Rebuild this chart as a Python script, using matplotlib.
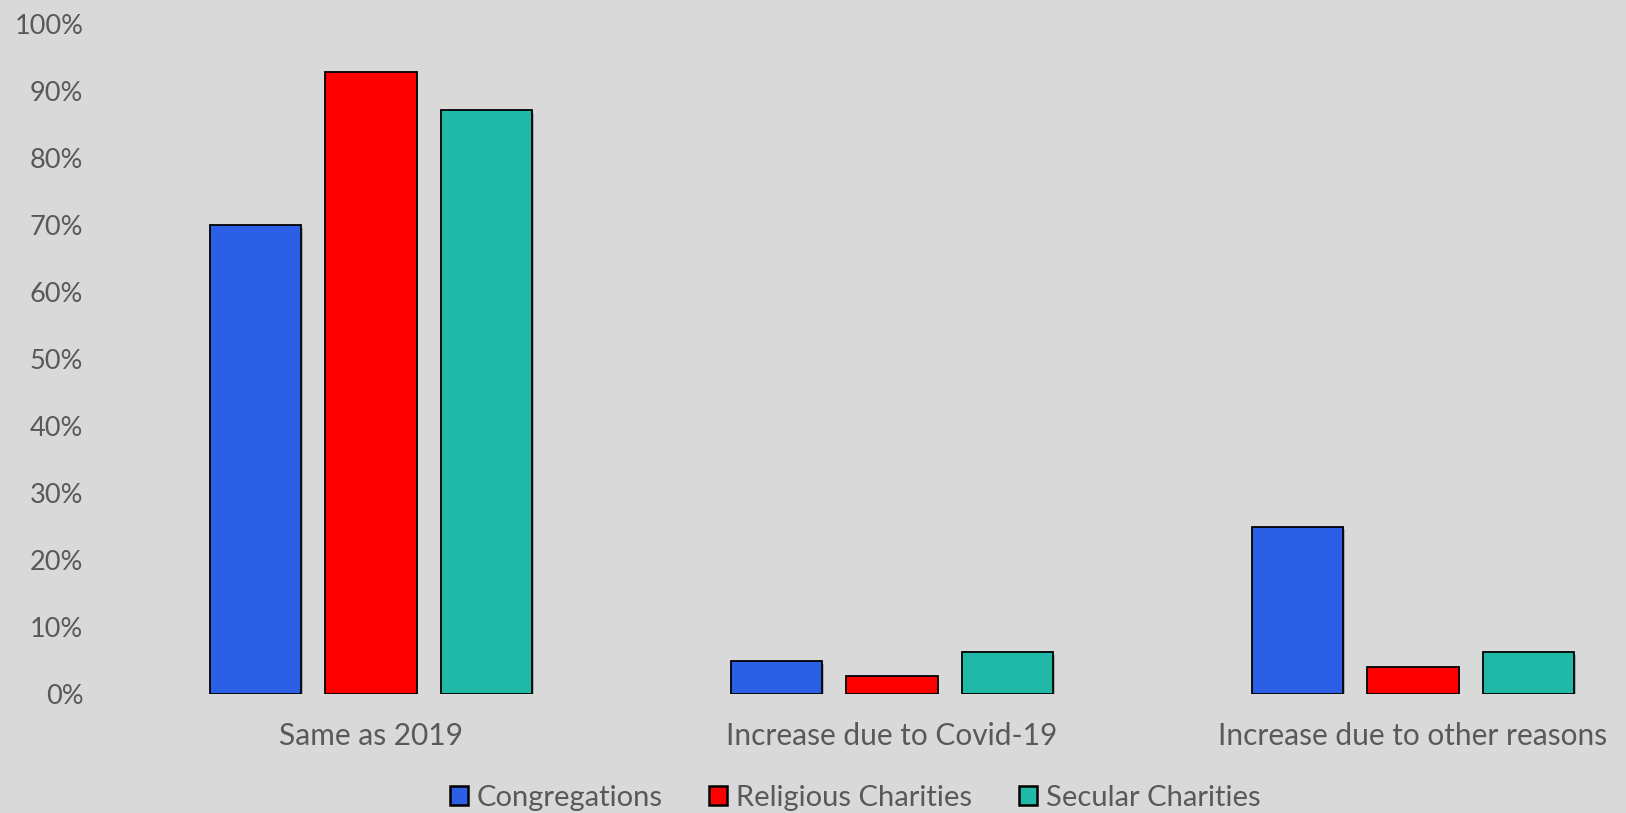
import matplotlib
matplotlib.use("Agg")
import matplotlib.pyplot as plt
import matplotlib.patheffects as pe
from matplotlib.ticker import FuncFormatter
import numpy as np

categories = ["Same as 2019", "Increase due to Covid-19", "Increase due to other reasons"]
series_names = ["Congregations", "Religious Charities", "Secular Charities"]
congregations = [0.70, 0.049, 0.25]
religious_charities = [0.929, 0.027, 0.041]
secular_charities = [0.872, 0.062, 0.062]
series_values = [congregations, religious_charities, secular_charities]
colors = ["#2A5FE6", "#FF0000", "#20B8A6"]
yticks = [0, 0.1, 0.2, 0.3, 0.4, 0.5, 0.6, 0.7, 0.8, 0.9, 1.0]

BG = "#D9D9D9"
TXT = "#595959"
plt.rcParams['font.family'] = ['Lato', 'DejaVu Sans']

W, H = 1626, 813
fig = plt.figure(figsize=(W / 100, H / 100), dpi=100, facecolor=BG)
left_px, right_px = 100, 1626
top_px, base_px = 24, 694
ax = fig.add_axes([left_px / W, 1 - base_px / H, (right_px - left_px) / W, (base_px - top_px) / H])
ax.set_facecolor(BG)

x = np.arange(len(categories))
pitch = 0.2217
width = 0.1756
shadow = [pe.SimplePatchShadow(offset=(1, -2), shadow_rgbFace="#A8A8A8", alpha=1.0), pe.Normal()]
for i, (name, vals, c) in enumerate(zip(series_names, series_values, colors)):
    bars = ax.bar(x + (i - 1) * pitch, vals, width, color=c, edgecolor="black",
                  linewidth=1.3, label=name, zorder=3)
    for b in bars:
        b.set_path_effects(shadow)

c0 = 371
spacing = 521
ax.set_xlim((left_px - c0) / spacing, (right_px - c0) / spacing)
ax.set_ylim(0, 1.0)
ax.set_yticks(yticks)
ax.yaxis.set_major_formatter(FuncFormatter(lambda v, p: f"{int(round(v * 100))}%"))
ax.set_xticks(x)
ax.set_xticklabels(categories)
for s in ax.spines.values():
    s.set_visible(False)
ax.tick_params(axis='both', length=0, colors=TXT)
ax.tick_params(axis='y', pad=12, labelsize=19.5)
ax.tick_params(axis='x', pad=20, labelsize=21.5)

leg_center_px = 855
leg = ax.legend(loc='center', bbox_to_anchor=((leg_center_px - left_px) / (right_px - left_px), -0.155),
                ncol=3, frameon=False, fontsize=21, handlelength=0.62, handleheight=0.62,
                handletextpad=0.3, columnspacing=1.6, labelcolor=TXT)
for h in leg.legend_handles:
    h.set_path_effects([])
    h.set_linewidth(1.8)

fig.savefig("out.png", dpi=100, facecolor=BG)
